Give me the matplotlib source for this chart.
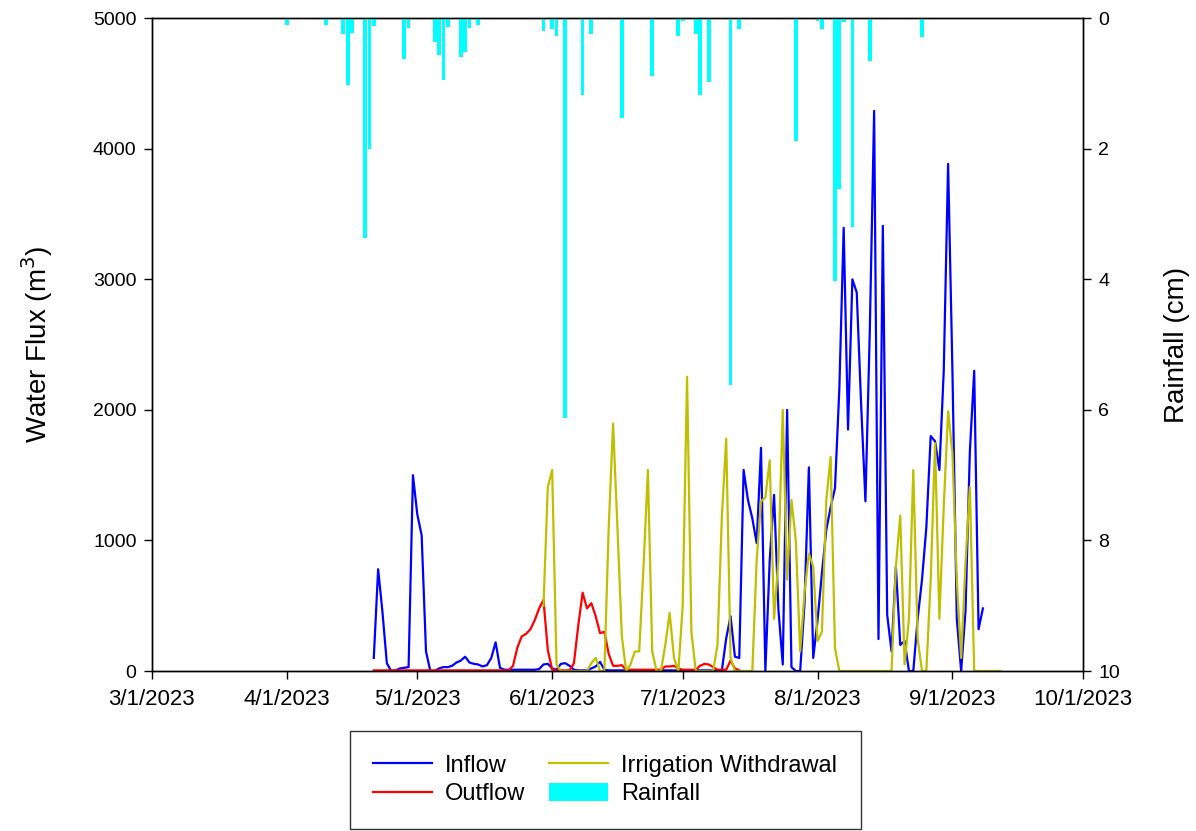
import matplotlib
matplotlib.use("Agg")
import matplotlib.pyplot as plt
import matplotlib.dates as mdates
from matplotlib.patches import Patch
from matplotlib.lines import Line2D
import pandas as pd

plt.rcParams["font.family"] = ["Liberation Sans", "DejaVu Sans"]

# daily series (m3), each starting at its first date
inflow_start = "2023-04-21"
inflow = [
    100, 780, 450, 60, 0, 5, 20, 25, 30, 1500,
    1200, 1040, 150, 0, 0, 20, 30, 30, 40, 65,
    80, 110, 65, 55, 50, 35, 45, 100, 220, 25,
    10, 10, 10, 10, 10, 10, 10, 10, 15, 50,
    55, 20, 10, 55, 60, 40, 10, 5, 5, 5,
    20, 35, 70, 10, 5, 5, 5, 5, 5, 5,
    5, 5, 5, 5, 5, 5, 5, 5, 5, 5,
    5, 5, 5, 5, 5, 5, 5, 5, 5, 5,
    5, 250, 420, 110, 100, 1540, 1310, 1170, 980, 1710,
    0, 850, 1350, 470, 50, 2000, 30, 0, 0, 520,
    1560, 100, 390, 750, 1080, 1255, 1400, 2160, 3395, 1850,
    3000, 2900, 2050, 1300, 2600, 4290, 245, 3410, 430, 150,
    800, 200, 230, 0, 0, 400, 700, 1100, 1800, 1760,
    1540, 2300, 3885, 2290, 400, 0, 460, 1680, 2300, 320,
    480,
]

outflow_start = "2023-04-21"
outflow = [
    5, 5, 5, 5, 5, 5, 5, 5, 5, 5,
    5, 5, 5, 5, 5, 5, 5, 5, 5, 5,
    5, 5, 5, 5, 5, 5, 5, 5, 5, 5,
    5, 5, 40,
    180, 265, 285, 320, 390, 480, 545,
    160, 10, 5, 5, 5, 5, 60, 350, 600, 480,
    520, 420, 290, 300, 130, 40, 40, 45, 10, 10,
    10, 10, 10, 10, 10, 10, 10, 35, 35, 40,
    20, 10, 10, 10, 10, 40, 55, 50, 30, 10,
    10, 10, 80, 20, 5,
]

irrigation_start = "2023-05-30"
irrigation = [
    500, 1410, 1540, 50, 0, 0, 0, 0, 0, 0,
    0, 60, 100, 0, 0, 1105, 1895, 1100, 270, 0,
    50, 150, 150, 800, 1540, 150, 0, 0, 200, 445,
    100, 0, 500, 2255, 300, 0, 0, 0, 0, 0,
    200, 1180, 1780, 100, 0, 0, 0, 0, 0, 850,
    1300, 1330, 1615, 400, 850, 2000, 700, 1310, 1000, 150,
    600, 900, 800, 230, 300, 1310, 1640, 175, 0, 0,
    0, 0, 0, 0, 0, 0, 0, 0, 0, 0,
    0, 800, 1190, 50, 400, 1540, 250, 0, 0, 700,
    1745, 400, 1260, 1990, 1670, 700, 100, 830, 1410, 0,
    0, 0, 0, 0, 0, 0,
]

# daily rainfall (cm)
rain_dates = [
    "2023-04-01", "2023-04-10", "2023-04-14", "2023-04-15", "2023-04-16",
    "2023-04-19", "2023-04-20", "2023-04-21", "2023-04-28", "2023-04-29",
    "2023-05-05", "2023-05-06", "2023-05-07", "2023-05-08", "2023-05-11",
    "2023-05-12", "2023-05-13", "2023-05-15", "2023-05-30", "2023-06-01",
    "2023-06-02", "2023-06-04", "2023-06-08", "2023-06-10", "2023-06-17",
    "2023-06-24", "2023-06-30", "2023-07-01", "2023-07-04", "2023-07-05",
    "2023-07-07", "2023-07-12", "2023-07-14", "2023-07-27", "2023-08-01",
    "2023-08-02", "2023-08-05", "2023-08-06", "2023-08-07", "2023-08-09",
    "2023-08-13", "2023-08-25",
]
rain_cm = [
    0.1, 0.1, 0.24, 1.02, 0.22,
    3.37, 2.0, 0.12, 0.63, 0.15,
    0.36, 0.56, 0.95, 0.14, 0.59,
    0.52, 0.15, 0.1, 0.2, 0.17,
    0.27, 6.13, 1.17, 0.24, 1.52,
    0.88, 0.27, 0.04, 0.24, 1.17,
    0.98, 5.62, 0.17, 1.88, 0.04,
    0.16, 4.02, 2.61, 0.05, 3.19,
    0.65, 0.29,
]

month_ticks = pd.date_range("2023-03-01", "2023-10-01", freq="MS")

fig = plt.figure(figsize=(11.96, 8.31), dpi=100)
ax = fig.add_axes([0.127, 0.1925, 0.7785, 0.7855])
ax2 = ax.twinx()

ax.plot(pd.date_range(inflow_start, periods=len(inflow)), inflow,
        color="#0000ff", lw=1.6, label="Inflow")
ax.plot(pd.date_range(outflow_start, periods=len(outflow)), outflow,
        color="#ff0000", lw=1.6, label="Outflow")
ax.plot(pd.date_range(irrigation_start, periods=len(irrigation)), irrigation,
        color="#bfbf00", lw=1.6, label="Irrigation Withdrawal")

ax2.bar(pd.to_datetime(rain_dates), rain_cm, width=0.85, color="#00ffff",
        align="center", label="Rainfall")

ax.set_xlim(month_ticks[0], month_ticks[-1])
ax.set_ylim(0, 5000)
ax2.set_ylim(10, 0)
ax.set_xticks(month_ticks)
ax.xaxis.set_major_formatter(
    plt.FuncFormatter(lambda v, p: "{d.month}/{d.day}/{d.year}".format(d=mdates.num2date(v))))
ax.set_yticks(range(0, 5001, 1000))
ax2.set_yticks(range(0, 11, 2))

for a in (ax, ax2):
    a.tick_params(direction="out", length=6, width=1, labelsize=14, pad=5)
    for s in a.spines.values():
        s.set_linewidth(1)
ax.tick_params(axis="x", labelsize=16, pad=7)

ax.set_ylabel("Water Flux (m$^3$)", fontsize=20, labelpad=27)
ax2.set_ylabel("Rainfall (cm)", fontsize=20, labelpad=32)

handles = [
    Line2D([], [], color="#0000ff", lw=1.6),
    Line2D([], [], color="#ff0000", lw=1.6),
    Line2D([], [], color="#bfbf00", lw=1.6),
    Patch(facecolor="#00ffff", edgecolor="none"),
]
labels = ["Inflow", "Outflow", "Irrigation Withdrawal", "Rainfall"]
leg = fig.legend(handles, labels, ncol=2, loc="center",
                 bbox_to_anchor=(0.5059, 0.0614), frameon=True, fancybox=False,
                 edgecolor="black", fontsize=17, handlelength=2.5,
                 handleheight=0.8, columnspacing=1.0, borderpad=1.0,
                 labelspacing=0.25, handletextpad=0.55, borderaxespad=0)
leg.get_frame().set_linewidth(1)

fig.savefig("out.png", dpi=100)
